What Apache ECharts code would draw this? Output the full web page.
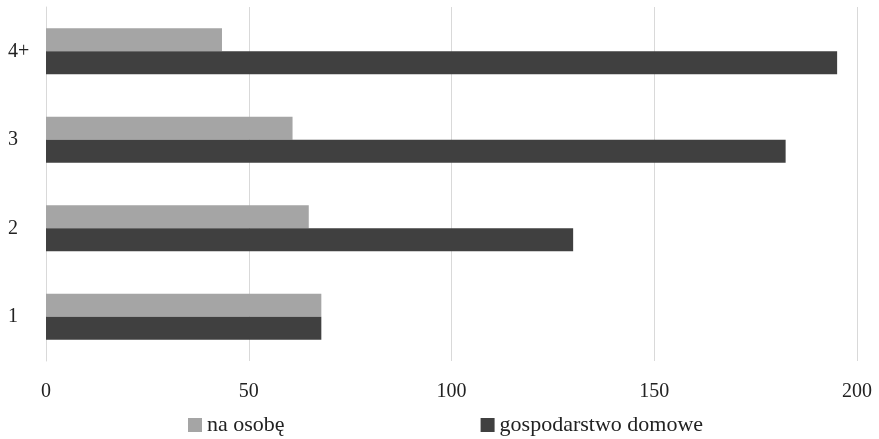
<!DOCTYPE html>
<html>
<head>
<meta charset="utf-8">
<script src="https://cdn.jsdelivr.net/npm/echarts@6/dist/echarts.min.js"></script>
<style>
  html, body { margin: 0; padding: 0; background: #fff; }
  #chart { width: 879px; height: 439px; }
</style>
</head>
<body>
<div id="chart"></div>
<script>
// Household size categories (bottom to top)
const categories = ['1', '2', '3', '4+'];
// Values per person and per household
const perPerson = [67.9, 64.8, 60.8, 43.4];
const perHousehold = [67.9, 130.0, 182.4, 195.1];
const seriesNames = ['na osobę', 'gospodarstwo domowe'];
const xTicks = { min: 0, max: 200, interval: 50 };

const font = '"Liberation Serif", "DejaVu Serif", serif';
const chart = echarts.init(document.getElementById('chart'));

chart.setOption({
  animation: false,
  textStyle: { fontFamily: font },
  grid: { left: 46, right: 22, top: 7, bottom: 78, containLabel: false },
  legend: {
    data: seriesNames,
    bottom: 3,
    left: 188,
    padding: 0,
    itemGap: 196,
    itemWidth: 14,
    itemHeight: 14,
    icon: 'rect',
    textStyle: { fontFamily: font, fontSize: 22, color: '#222' }
  },
  xAxis: {
    type: 'value',
    min: xTicks.min,
    max: xTicks.max,
    interval: xTicks.interval,
    axisLine: { show: false },
    axisTick: { show: false },
    axisLabel: { margin: 21, fontFamily: font, fontSize: 20, color: '#222' },
    splitLine: { show: true, lineStyle: { color: '#d9d9d9', width: 1 } }
  },
  yAxis: {
    type: 'category',
    data: categories,
    axisLine: { show: true, lineStyle: { color: '#d9d9d9' } },
    axisTick: { show: false },
    axisLabel: { align: 'left', margin: 38, fontFamily: font, fontSize: 20, color: '#222' }
  },
  series: [
    {
      name: seriesNames[0],
      type: 'bar',
      data: perPerson,
      barWidth: 23,
      barGap: '0%',
      itemStyle: { color: '#a5a5a5' }
    },
    {
      name: seriesNames[1],
      type: 'bar',
      data: perHousehold,
      barWidth: 23,
      barGap: '0%',
      itemStyle: { color: '#404040' }
    }
  ]
});
</script>
</body>
</html>
